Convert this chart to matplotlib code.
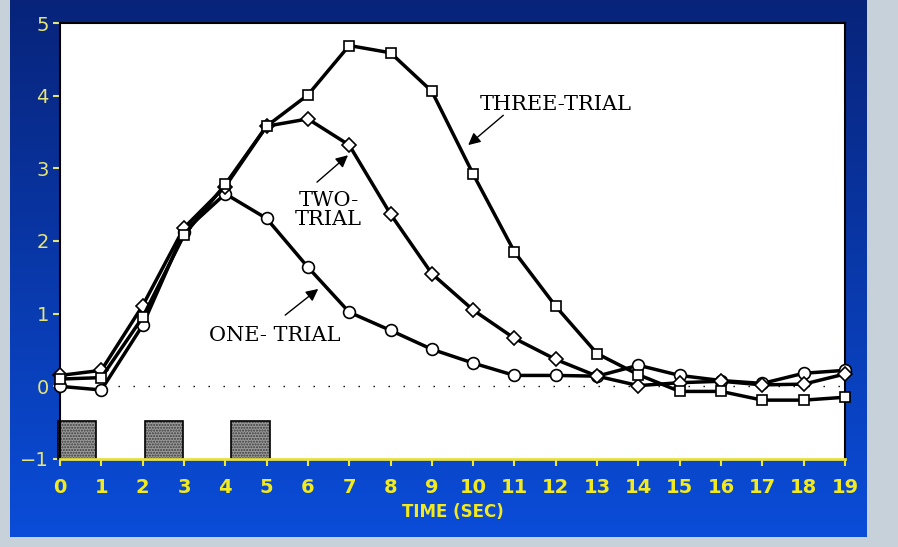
import numpy as np
import matplotlib
matplotlib.use("Agg")
import matplotlib.pyplot as plt  # noqa: E402

# time axis (sec)
time = list(range(20))

one_trial = [0.0, -0.05, 0.84, 2.13, 2.65, 2.31, 1.64, 1.02, 0.77, 0.51,
             0.32, 0.15, 0.15, 0.14, 0.29, 0.15, 0.08, 0.04, 0.18, 0.22]
two_trial = [0.15, 0.22, 1.11, 2.18, 2.75, 3.58, 3.68, 3.32, 2.37, 1.55,
             1.05, 0.66, 0.37, 0.14, 0.01, 0.05, 0.07, 0.02, 0.03, 0.17]
three_trial = [0.1, 0.12, 0.95, 2.08, 2.78, 3.58, 4.01, 4.69, 4.59, 4.06,
               2.92, 1.85, 1.10, 0.45, 0.16, -0.07, -0.07, -0.19, -0.19, -0.15]

# stimulus blocks (start, width)
stim_start = [-0.05, 2.05, 4.15]
stim_width = [0.93, 0.93, 0.93]

W, H = 898, 547
fig = plt.figure(figsize=(W / 100, H / 100), dpi=100)
fig.patch.set_facecolor("#c6d1d9")

# blue gradient backdrop
bg = fig.add_axes([10 / W, 10 / H, 857 / W, 537 / H])
grad = np.linspace(0, 1, 256).reshape(-1, 1)
top = np.array([0.03, 0.14, 0.48])
bot = np.array([0.04, 0.30, 0.85])
img = top + (bot - top) * grad[:, :, None]
bg.imshow(img, aspect="auto", extent=[0, 1, 0, 1], origin="upper")
bg.set_axis_off()

ax = fig.add_axes([60 / W, (H - 459) / H, 785 / W, 436 / H])
ax.set_facecolor("white")

ax.plot([1.4, 19], [0, 0], color="black", lw=1, linestyle=(0, (1, 9.8)), zorder=1)

ax.bar(stim_start, [0.52] * 3, width=stim_width, bottom=-1, align="edge",
       facecolor="#9a9a9a", edgecolor="#3a3a3a", hatch="......", lw=0,
       clip_on=False, zorder=2)
ax.bar(stim_start, [0.52] * 3, width=stim_width, bottom=-1, align="edge",
       fill=False, edgecolor="black", lw=1.2, clip_on=False, zorder=2)

style = dict(color="black", lw=2.5, markerfacecolor="white",
             markeredgecolor="black", markeredgewidth=1.2, clip_on=False, zorder=3)
ax.plot(time, one_trial, marker="o", ms=8.5, **style)
ax.plot(time, two_trial, marker="D", ms=7, **style)
ax.plot(time, three_trial, marker="s", ms=7.5, **style)

font = dict(family="DejaVu Serif", fontsize=15, color="black", ha="center", va="center")
arrow = dict(arrowstyle="-|>", color="black", lw=1, mutation_scale=18,
             shrinkA=0, shrinkB=0)
ax.text(12.0, 3.88, "THREE-TRIAL", **font)
ax.annotate("", xy=(9.88, 3.32), xytext=(10.73, 3.73), arrowprops=arrow)
ax.text(6.5, 2.42, "TWO-\nTRIAL", linespacing=1.0, **font)
ax.annotate("", xy=(6.97, 3.18), xytext=(6.22, 2.81), arrowprops=arrow)
ax.text(5.2, 0.70, "ONE- TRIAL", **font)
ax.annotate("", xy=(6.25, 1.34), xytext=(5.45, 0.98), arrowprops=arrow)

ax.set_xlim(0, 19)
ax.set_ylim(-1, 5)
ax.set_xticks(time)
ax.set_yticks(range(-1, 6))

for side in ["top", "right", "left"]:
    ax.spines[side].set_color("black")
    ax.spines[side].set_linewidth(1.5)
ax.spines["bottom"].set_color("#e8e040")
ax.spines["bottom"].set_linewidth(2)

ax.tick_params(axis="x", colors="#f2ea1c", length=5, width=1.5, pad=9,
               labelsize=14)
ax.tick_params(axis="y", colors="#e4e47a", length=5, width=1.5, pad=3,
               labelsize=14)
ax.tick_params(axis="y", which="major", direction="out")
for lab in ax.get_xticklabels():
    lab.set_fontweight("bold")

ax.set_xlabel("TIME (SEC)", color="#f2ea1c", fontsize=12, fontweight="bold",
              labelpad=4)

fig.savefig("out.png", dpi=100, facecolor=fig.get_facecolor())
